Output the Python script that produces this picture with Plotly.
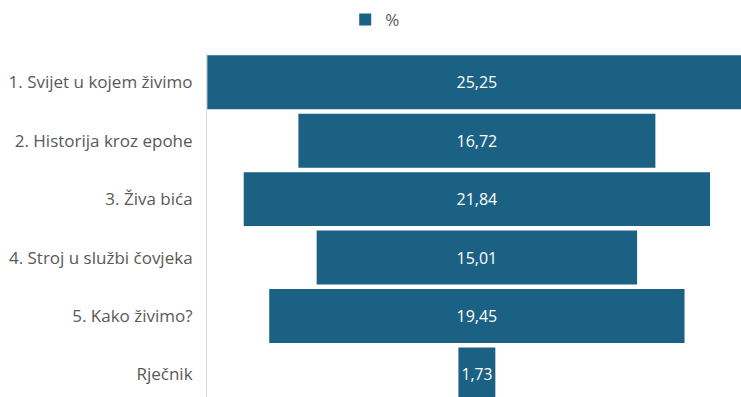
import plotly.graph_objects as go

categories = [
    "1. Svijet u kojem živimo",
    "2. Historija kroz epohe",
    "3. Živa bića",
    "4. Stroj u službi čovjeka",
    "5. Kako živimo?",
    "Rječnik",
]
percent = [25.25, 16.72, 21.84, 15.01, 19.45, 1.73]

bar_color = "#1b6183"
label_font = "Open Sans, Noto Sans, sans-serif"

fig = go.Figure(
    go.Funnel(
        name="%",
        y=categories,
        x=percent,
        orientation="h",
        marker=dict(color=bar_color, line=dict(width=0)),
        connector=dict(visible=False),
        texttemplate="%{x:.2f}",
        textposition="inside",
        insidetextanchor="middle",
        textfont=dict(color="white", size=16, family=label_font),
        showlegend=True,
    )
)

fig.update_layout(
    width=741,
    height=397,
    margin=dict(l=207, r=0, t=53, b=0),
    paper_bgcolor="white",
    plot_bgcolor="white",
    separators=",.",
    funnelgap=0.077,
    legend=dict(
        orientation="h",
        x=0.315,
        xanchor="center",
        y=1.096,
        yanchor="middle",
        font=dict(size=17, color="#595959", family=label_font),
    ),
    xaxis=dict(
        range=[-12.64, 12.37],
        visible=False,
        fixedrange=True,
    ),
    yaxis=dict(
        range=[5.385, -0.5],
        showline=True,
        linecolor="#d9d9d9",
        linewidth=1,
        showgrid=False,
        ticks="",
        ticklabelstandoff=10,
        tickfont=dict(size=17, color="#595959", family=label_font),
    ),
)

fig.write_html("out.html")
